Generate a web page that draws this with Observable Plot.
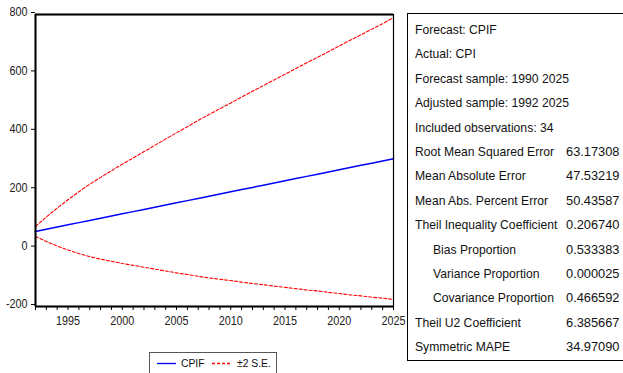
<!DOCTYPE html>
<html>
<head>
<meta charset="utf-8">
<script src="https://cdn.jsdelivr.net/npm/d3@7"></script>
<script src="https://cdn.jsdelivr.net/npm/@observablehq/plot@0.6"></script>
<style>
  html, body { margin: 0; padding: 0; background: #fff; }
  body { width: 623px; height: 373px; overflow: hidden; position: relative;
         font-family: "Liberation Sans", Arial, sans-serif; }
  #chart { position: absolute; left: 0; top: 0; }
  #stats { position: absolute; left: 407px; top: 13px; width: 240px; height: 348px;
           border: 1.5px solid #000; box-sizing: border-box; }
  .row { position: absolute; left: 7px; font-size: 13.5px; color: #111; white-space: nowrap; line-height: 1;
         transform: scaleX(0.9); transform-origin: 0 0; }
  .val { position: absolute; left: 158px; font-size: 13.5px; color: #111; white-space: nowrap; line-height: 1;
         transform: scaleX(0.95); transform-origin: 0 0; }
  #legend { position: absolute; left: 149px; top: 352px; width: 128px; height: 26px;
            border: 1px solid #555; box-sizing: border-box; }
</style>
</head>
<body>
<div id="chart"></div>
<div id="stats"></div>
<div id="legend"></div>
<script>
// ---- data ----
const years = [1992,1993,1994,1995,1996,1997,1998,1999,2000,2001,2002,2003,2004,2005,2006,2007,2008,2009,2010,2011,2012,2013,2014,2015,2016,2017,2018,2019,2020,2021,2022,2023,2024,2025];
const cpif  = [57.0,64.5,72.1,79.6,87.2,94.7,102.3,109.8,117.4,124.9,132.5,140.0,147.5,155.1,162.6,170.2,177.7,185.3,192.8,200.4,207.9,215.4,223.0,230.5,238.1,245.6,253.2,260.7,268.3,275.8,283.4,290.9,298.5,306.0];
const upper = [74.0,106.5,137.1,165.6,193.2,218.7,242.3,264.8,287.4,308.9,330.5,352.0,373.5,395.1,415.6,437.2,457.7,477.3,496.8,517.4,536.9,556.4,576.0,595.5,615.1,634.6,653.2,672.7,692.3,711.8,730.4,749.9,768.5,790.0];
const lower = [40.0,22.5,7.1,-6.4,-18.8,-29.3,-37.7,-45.2,-52.6,-59.1,-65.5,-72.0,-78.5,-84.9,-90.4,-96.8,-102.3,-106.7,-111.2,-116.6,-121.1,-125.6,-130.0,-134.5,-138.9,-143.4,-146.8,-151.3,-155.7,-160.2,-163.6,-168.1,-171.5,-176.0];
const yTicks = [-200, 0, 200, 400, 600, 800];
const xLabelYears = [1995, 2000, 2005, 2010, 2015, 2020, 2025];
const seriesNames = ["CPIF", "±2 S.E."];
const statLabels = ["Forecast: CPIF","Actual: CPI","Forecast sample: 1990 2025","Adjusted sample: 1992 2025","Included observations: 34","Root Mean Squared Error","Mean Absolute Error","Mean Abs. Percent Error","Theil Inequality Coefficient","Bias Proportion","Variance Proportion","Covariance Proportion","Theil U2 Coefficient","Symmetric MAPE"];
const statValues = ["","","","","","63.17308","47.53219","50.43587","0.206740","0.533383","0.000025","0.466592","6.385667","34.97090"];
const statIndent = [0,0,0,0,0,0,0,0,0,1,1,1,0,0];

const rows = years.map((y, i) => ({year: y, cpif: cpif[i], upper: upper[i], lower: lower[i]}));

const plot = Plot.plot({
  width: 407,
  height: 330,
  marginLeft: 35,
  marginRight: 14,
  marginTop: 14,
  marginBottom: 24,
  style: {fontFamily: '"Liberation Sans", Arial, sans-serif', fontSize: "12px", color: "#000", background: "#fff"},
  x: {domain: [1992, 2025]},
  y: {domain: [-200, 800]},
  marks: [
    Plot.axisX({ticks: years, tickSize: 4, tickPadding: 6, tickFormat: d => xLabelYears.includes(d) ? String(d) : "", label: null, stroke: "#000", fill: "#222"}),
    Plot.axisY({ticks: yTicks, tickSize: 4, tickPadding: 4, tickFormat: d => String(d), label: null, dy: -2, stroke: "#000", fill: "#222"}),
    Plot.line(rows, {x: "year", y: "upper", stroke: "#ff0000", strokeWidth: 1.1, strokeDasharray: "3,2"}),
    Plot.line(rows, {x: "year", y: "lower", stroke: "#ff0000", strokeWidth: 1.1, strokeDasharray: "3,2"}),
    Plot.line(rows, {x: "year", y: "cpif", stroke: "#0000ff", strokeWidth: 1.5}),
    Plot.frame({stroke: "#000", strokeWidth: 1.2}),
    Plot.ruleX([1992], {stroke: "#000", strokeWidth: 2}),
    Plot.ruleY([-200], {stroke: "#000", strokeWidth: 2}),
    Plot.ruleY([800], {stroke: "#000", strokeWidth: 1.8})
  ]
});
document.getElementById("chart").appendChild(plot);

// condense axis tick labels horizontally (narrow look of the original)
d3.select(plot).selectAll('g[aria-label$="tick label"] text').each(function() {
  const t = this.getAttribute("transform");
  if (t && t.includes("translate")) {
    this.setAttribute("transform", t + " scale(0.9,1)");
  } else {
    const x = +(this.getAttribute("x") || 0);
    this.setAttribute("transform", `translate(${x},0) scale(0.9,1) translate(${-x},0)`);
  }
});

// stats box
const stats = document.getElementById("stats");
statLabels.forEach((lab, i) => {
  const top = 30 + 24.4 * i - 13 - 8;
  const d = document.createElement("div");
  d.className = "row";
  d.style.top = top + "px";
  d.style.left = (7 + statIndent[i] * 18) + "px";
  d.textContent = lab;
  stats.appendChild(d);
  if (statValues[i]) {
    const v = document.createElement("div");
    v.className = "val";
    v.style.top = top + "px";
    v.textContent = statValues[i];
    stats.appendChild(v);
  }
});

// legend
const legend = document.getElementById("legend");
legend.innerHTML = `
<svg width="128" height="26" style="position:absolute;left:0;top:0;font-family:'Liberation Sans',Arial,sans-serif">
  <line x1="7" x2="26" y1="10.5" y2="10.5" stroke="#0000ff" stroke-width="1.3"/>
  <text x="31" y="14.5" font-size="11.5" fill="#111" transform="translate(31,0) scale(0.9,1) translate(-31,0)">${seriesNames[0]}</text>
  <line x1="62" x2="82" y1="10.5" y2="10.5" stroke="#ff0000" stroke-width="1.3" stroke-dasharray="3,2"/>
  <text x="87" y="14.5" font-size="11.5" fill="#111" transform="translate(87,0) scale(0.9,1) translate(-87,0)">${seriesNames[1]}</text>
</svg>`;
</script>
</body>
</html>
